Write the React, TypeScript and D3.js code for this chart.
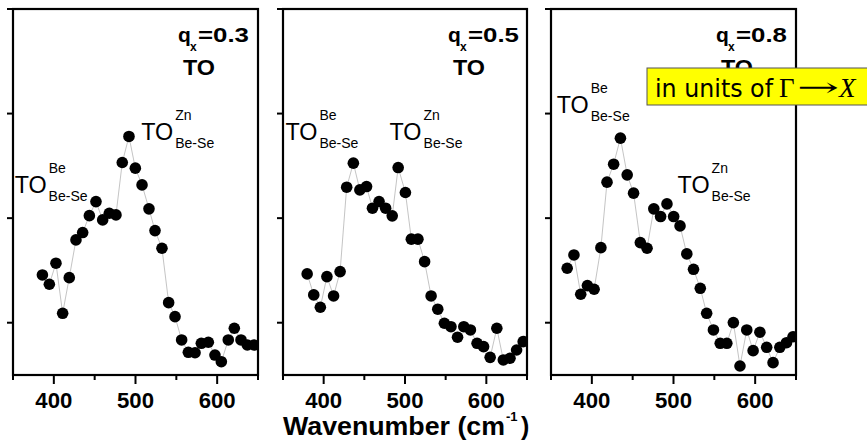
import React from "react";
import * as d3 from "d3";

// ---- data ----
const qValues = ["0.3", "0.5", "0.8"];
const xTickLabels = [400, 500, 600];

const wave1 = [386, 394.5, 402.6, 410.8, 418.9, 427.1, 435.3, 443.5, 451.6, 459.8, 467.9, 476.1, 483.8, 492, 499.8, 508, 516.5, 523.9, 532.4, 540.6, 548.4, 556.5, 564.7, 572.9, 580.6, 589.2, 597.3, 605.1, 613.6, 621, 629.2, 636.9, 645.1];
const int1 = [0.957, 0.868, 1.069, 0.59, 0.931, 1.292, 1.362, 1.524, 1.658, 1.483, 1.547, 1.531, 2.032, 2.281, 1.978, 1.818, 1.589, 1.381, 1.212, 0.692, 0.558, 0.335, 0.217, 0.213, 0.303, 0.313, 0.191, 0.127, 0.335, 0.447, 0.335, 0.287, 0.287];

const wave2 = [379.7, 387.8, 395.9, 404, 412.2, 420.2, 428.3, 436.5, 444.5, 452.7, 460, 468.1, 476.2, 484.3, 491.6, 500.5, 507.8, 515.9, 524.1, 532.1, 540.3, 548.4, 556.5, 564.6, 572.3, 580.4, 588.6, 596.6, 604.7, 612.9, 620.9, 629.1, 637.2, 645.3];
const int2 = [0.967, 0.766, 0.648, 0.941, 0.756, 0.989, 1.796, 2.026, 1.77, 1.802, 1.595, 1.658, 1.595, 1.522, 1.984, 1.745, 1.299, 1.299, 1.084, 0.756, 0.629, 0.495, 0.462, 0.361, 0.462, 0.431, 0.303, 0.271, 0.169, 0.447, 0.144, 0.16, 0.239, 0.319];

const wave3 = [369.8, 378.1, 386.4, 394.6, 402.8, 411.1, 418.6, 426.7, 435, 443.3, 451.1, 459.4, 467.6, 475.9, 484.2, 492, 500.2, 508, 516.3, 524.5, 532.8, 540.6, 548.9, 557.2, 565.3, 573.3, 581.4, 589.7, 597.5, 605.8, 614.1, 621.9, 630.2, 638.4, 646.3];
const int3 = [1.021, 1.148, 0.772, 0.855, 0.82, 1.218, 1.844, 2.016, 2.265, 1.914, 1.739, 1.266, 1.212, 1.589, 1.515, 1.636, 1.515, 1.426, 1.158, 1.011, 0.829, 0.59, 0.431, 0.303, 0.303, 0.501, 0.086, 0.431, 0.233, 0.409, 0.265, 0.118, 0.265, 0.309, 0.366];

const yTickValues = [0.5, 1.5, 2.5, 3.5];
const xMajor = [400, 500, 600];
const xMinor = [350, 450, 550, 650];

// annotation anchors in data units: [wavenumber, intensity] of the "TO" baseline start
const beAnn = [[352, 1.74], [353, 2.25], [357, 2.51]];
const znAnn = [[507, 2.25], [481, 2.25], [505, 1.74]];

const panels = [
  { x0: 13, x1: 258, wave: wave1, inten: int1 },
  { x0: 283, x1: 527, wave: wave2, inten: int2 },
  { x0: 551, x1: 796, wave: wave3, inten: int3 },
];

const TOP = 9;
const BOTTOM = 375;
const FONT = "'Liberation Sans', Arial, Helvetica, sans-serif";
const SERIF = "'Liberation Serif', 'DejaVu Serif', serif";

function TOLabel({ x, y, sup }: { x: number; y: number; sup: string }) {
  return (
    <g fontFamily={FONT} fill="#000">
      <text x={x} y={y} fontSize={24} textLength={32} lengthAdjust="spacingAndGlyphs">TO</text>
      <text x={x + 34} y={y - 20} fontSize={14}>{sup}</text>
      <text x={x + 34} y={y + 8} fontSize={14} textLength={39} lengthAdjust="spacingAndGlyphs">Be-Se</text>
    </g>
  );
}

function Panel({ idx }: { idx: number }) {
  const p = panels[idx];
  const x = d3.scaleLinear().domain([350, 650]).range([p.x0, p.x1]);
  const y = d3.scaleLinear().domain([0, 3.5]).range([BOTTOM, TOP]);
  const pts = p.wave.map((w, i) => [w, p.inten[i]] as [number, number]);
  const line = d3.line<[number, number]>().x((d) => x(d[0])).y((d) => y(d[1]));
  const clipId = `clip${idx}`;
  const be = beAnn[idx];
  const zn = znAnn[idx];
  return (
    <g>
      <defs>
        <clipPath id={clipId}>
          <rect x={p.x0} y={TOP} width={p.x1 - p.x0} height={BOTTOM - TOP} />
        </clipPath>
      </defs>
      <g clipPath={`url(#${clipId})`}>
        <path d={line(pts) || ""} fill="none" stroke="#bdbdbd" strokeWidth={0.9} />
        {pts.map((d, i) => (
          <circle key={i} cx={x(d[0])} cy={y(d[1])} r={5.8} fill="#000" />
        ))}
      </g>
      <rect x={p.x0} y={TOP} width={p.x1 - p.x0} height={BOTTOM - TOP} fill="none" stroke="#000" strokeWidth={2.2} />
      {yTickValues.map((v) => (
        <line key={v} x1={p.x0 - 6} x2={p.x0} y1={y(v)} y2={y(v)} stroke="#000" strokeWidth={2} />
      ))}
      {xMajor.map((v) => (
        <line key={v} x1={x(v)} x2={x(v)} y1={BOTTOM} y2={BOTTOM + 9} stroke="#000" strokeWidth={2} />
      ))}
      {xMinor.map((v) => (
        <line key={v} x1={x(v)} x2={x(v)} y1={BOTTOM} y2={BOTTOM + 5} stroke="#000" strokeWidth={2} />
      ))}
      {xTickLabels.map((v) => (
        <text key={v} x={x(v)} y={408} textAnchor="middle" fontFamily={FONT} fontSize={22} fontWeight="bold" textLength={37} lengthAdjust="spacingAndGlyphs">
          {v}
        </text>
      ))}
      <g fontFamily={FONT} fontWeight="bold" fill="#000">
        <text x={p.x0 + 165} y={42} fontSize={21}>q</text>
        <text x={p.x0 + 177} y={51} fontSize={12}>x</text>
        <text x={p.x0 + 185} y={42} fontSize={21} textLength={51} lengthAdjust="spacingAndGlyphs">{"=" + qValues[idx]}</text>
        <text x={p.x0 + 170} y={75} fontSize={22} textLength={32} lengthAdjust="spacingAndGlyphs">TO</text>
      </g>
      <TOLabel x={x(be[0])} y={y(be[1])} sup="Be" />
      <TOLabel x={x(zn[0])} y={y(zn[1])} sup="Zn" />
    </g>
  );
}

export default function App() {
  return (
    <svg width={867} height={445} style={{ position: "absolute", left: 0, top: 0, background: "#fff" }}>
      <rect x={0} y={0} width={867} height={445} fill="#fff" />
      {panels.map((_, i) => (
        <Panel key={i} idx={i} />
      ))}
      <g fontFamily={FONT} fontWeight="bold" fill="#000">
        <text x={283} y={435} fontSize={25} textLength={222} lengthAdjust="spacingAndGlyphs">Wavenumber (cm</text>
        <text x={506} y={421} fontSize={13}>-1</text>
        <text x={521} y={435} fontSize={25}>)</text>
      </g>
      <rect x={647} y={68} width={230} height={37} fill="#ffff00" stroke="#555" strokeWidth={1} />
      <g fill="#000">
        <text x={655} y={97} fontSize={25} fontFamily="'DejaVu Sans', sans-serif" textLength={118} lengthAdjust="spacingAndGlyphs">in units of</text>
        <text x={779} y={97} fontSize={27} fontFamily={SERIF}>Γ</text>
        <text x={797} y={96} fontSize={26} fontFamily="'DejaVu Serif', serif" textLength={42} lengthAdjust="spacingAndGlyphs">→</text>
        <text x={839} y={97} fontSize={27} fontFamily={SERIF} fontStyle="italic">X</text>
      </g>
    </svg>
  );
}
